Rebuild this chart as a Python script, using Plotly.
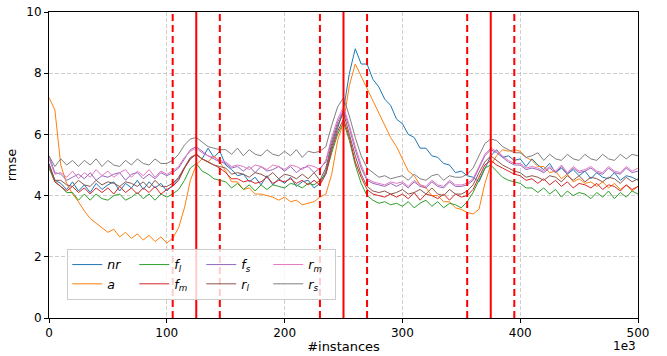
import plotly.graph_objects as go

# x positions in thousands of instances (step 5k)
x_k = list(range(0, 505, 5))

nr = [5.05, 4.5, 4.4, 4.2, 4.45, 4.15, 4.35, 4.1, 4.4, 4.2,
      4.35, 4.45, 4.15, 4.4, 4.25, 4.5, 4.2, 4.45, 4.25, 4.4,
      4.15, 4.35, 4.55, 4.9, 5.2, 5.35, 5.2, 5.55, 5.25, 5.45,
      5.0, 4.85, 4.65, 4.7, 4.45, 4.6, 4.35, 4.65, 4.35, 4.55,
      4.4, 4.6, 4.3, 4.45, 4.5, 4.25, 4.4, 4.8, 5.6, 6.2,
      6.8, 8.0, 8.8, 8.3, 8.3, 7.8, 7.55, 7.15, 6.95, 6.5,
      6.35, 6.0, 5.9, 5.55, 5.55, 5.3, 5.25, 5.05, 5.0, 4.75,
      4.8, 4.65, 4.6, 4.45, 4.9, 5.3, 5.5, 5.25, 5.3, 5.15,
      5.2, 4.95, 5.2, 5.0, 4.85, 5.05, 4.75, 4.9, 4.7, 4.85,
      4.65, 4.8, 4.55, 4.75, 4.6, 4.55, 4.75, 4.5, 4.65, 4.6,
      4.5]

a = [7.2, 6.8, 5.0, 4.4, 4.05, 3.8, 3.5, 3.25, 3.1, 2.95,
     2.8, 2.9, 2.65, 2.8, 2.6, 2.75, 2.55, 2.7, 2.5, 2.65,
     2.45, 2.6, 2.95, 3.6, 4.5, 5.0, 5.2, 5.1, 5.3, 5.1,
     4.8, 4.45, 4.45, 4.2, 4.25, 4.05, 4.05, 4.0, 3.95, 3.85,
     3.95, 3.8, 3.85, 3.7, 3.75, 3.8, 3.95, 4.05, 4.7, 5.8,
     6.4, 7.6, 8.3, 7.9, 7.5, 7.1, 6.7, 6.3, 5.9, 5.6,
     5.2, 4.8, 4.65, 4.35, 4.25, 4.0, 4.0, 3.8, 3.8, 3.6,
     3.55, 3.45, 3.4, 3.55, 4.4, 5.0, 5.3, 5.5, 5.45, 5.5,
     5.45, 5.25, 5.15, 4.95, 4.95, 4.75, 4.8, 4.55, 4.7, 4.45,
     4.55, 4.4, 4.45, 4.3, 4.45, 4.25, 4.4, 4.2, 4.35, 4.15,
     4.3]

f_l = [4.9, 4.45, 4.3, 4.1, 4.1, 3.85, 4.05, 3.85, 4.05, 3.9,
       3.85, 4.0, 4.05, 3.85, 3.95, 4.1, 3.9, 4.05, 3.85, 4.05,
       3.95, 4.05, 4.2, 4.5, 4.9, 5.05, 4.8, 4.7, 4.55, 4.5,
       4.45, 4.25, 4.4, 4.2, 4.35, 4.15, 4.35, 4.2, 4.35, 4.3,
       4.25, 4.4, 4.35, 4.25, 4.4, 4.35, 4.5, 4.7, 5.4, 6.0,
       6.4, 5.8, 5.0, 4.4, 4.0, 3.85, 3.75, 3.8, 3.7, 3.75,
       3.65, 3.8, 3.6, 3.75, 3.85, 3.65, 3.8, 3.6, 3.75, 3.7,
       3.6, 3.8, 4.1, 4.5, 4.9, 5.0, 4.8, 4.6, 4.5, 4.45,
       4.4, 4.25, 4.25, 4.1, 4.25, 4.05, 4.2, 3.95, 4.15, 4.0,
       4.1, 4.05, 3.9, 4.1, 3.95, 4.15, 3.9, 4.1, 3.95, 4.15,
       4.05]

f_m = [5.0, 4.45, 4.3, 4.15, 4.3, 4.1, 4.25, 4.05, 4.25, 4.1,
       4.25, 4.05, 4.3, 4.1, 4.25, 4.05, 4.25, 4.1, 4.3, 4.05,
       4.2, 4.3, 4.5, 4.9, 5.2, 5.35, 5.2, 5.1, 5.0, 4.9,
       4.75, 4.55, 4.55, 4.45, 4.5, 4.4, 4.45, 4.6, 4.4, 4.5,
       4.45, 4.55, 4.4, 4.5, 4.35, 4.5, 4.35, 4.7, 5.5, 6.1,
       6.5, 5.9, 5.1, 4.6, 4.2, 4.05, 4.0, 3.95, 4.05, 3.95,
       4.05, 3.9, 4.1, 3.85, 4.05, 4.0, 3.9, 4.05, 3.85, 4.05,
       3.95, 4.0, 4.2, 4.6, 5.0, 5.15, 5.0, 4.9, 4.8, 4.7,
       4.65, 4.5, 4.55, 4.4, 4.55, 4.35, 4.5, 4.3, 4.45, 4.25,
       4.4, 4.35, 4.25, 4.4, 4.2, 4.35, 4.3, 4.15, 4.35, 4.2,
       4.3]

f_s = [5.3, 4.75, 4.7, 4.5, 4.6, 4.7, 4.55, 4.75, 4.5, 4.65,
       4.6, 4.7, 4.75, 4.5, 4.7, 4.75, 4.55, 4.7, 4.55, 4.75,
       4.65, 4.75, 4.9, 5.2, 5.5, 5.6, 5.45, 5.3, 5.2, 5.1,
       5.05, 4.9, 4.95, 4.8, 4.95, 4.75, 4.95, 4.8, 4.85, 4.95,
       4.8, 4.95, 4.75, 4.9, 4.95, 4.75, 4.9, 5.1, 5.8, 6.4,
       6.8, 6.2, 5.5, 4.9, 4.5, 4.4, 4.35, 4.3, 4.4, 4.3,
       4.4, 4.25, 4.45, 4.3, 4.25, 4.45, 4.3, 4.25, 4.45, 4.3,
       4.3, 4.35, 4.5, 4.9, 5.3, 5.5, 5.4, 5.25, 5.1, 5.0,
       5.0, 4.85, 4.9, 4.85, 4.75, 4.9, 4.75, 4.95, 4.7, 4.9,
       4.75, 4.8, 4.9, 4.75, 4.7, 4.9, 4.75, 4.7, 4.9, 4.75,
       4.8]

r_l = [5.0, 4.5, 4.5, 4.35, 4.3, 4.5, 4.35, 4.3, 4.5, 4.35,
       4.45, 4.4, 4.3, 4.45, 4.4, 4.3, 4.45, 4.25, 4.5, 4.3,
       4.3, 4.4, 4.6, 4.95, 5.25, 5.35, 5.2, 5.1, 5.0, 4.95,
       4.9, 4.7, 4.75, 4.7, 4.6, 4.75, 4.7, 4.6, 4.75, 4.55,
       4.7, 4.65, 4.55, 4.7, 4.55, 4.75, 4.5, 4.9, 5.7, 6.3,
       6.7, 6.0, 5.3, 4.7, 4.3, 4.15, 4.1, 4.15, 4.05, 4.1,
       4.2, 4.05, 4.1, 4.2, 4.05, 4.25, 4.05, 4.0, 4.2, 4.05,
       4.05, 4.15, 4.35, 4.75, 5.1, 5.3, 5.15, 5.0, 4.9, 4.8,
       4.75, 4.6, 4.65, 4.6, 4.5, 4.65, 4.6, 4.45, 4.65, 4.5,
       4.65, 4.45, 4.6, 4.55, 4.45, 4.6, 4.55, 4.4, 4.6, 4.45,
       4.55]

r_m = [5.2, 4.7, 4.75, 4.6, 4.8, 4.55, 4.75, 4.6, 4.85, 4.65,
       4.8, 4.6, 4.75, 4.85, 4.6, 4.8, 4.65, 4.85, 4.6, 4.8,
       4.7, 4.8, 4.95, 5.25, 5.45, 5.55, 5.4, 5.3, 5.25, 5.15,
       5.1, 4.95, 5.0, 4.95, 4.85, 5.0, 4.95, 4.85, 5.0, 4.95,
       4.85, 5.0, 4.95, 4.85, 5.0, 4.95, 4.85, 5.15, 5.9, 6.5,
       6.9, 6.3, 5.6, 5.0, 4.55, 4.45, 4.4, 4.35, 4.45, 4.4,
       4.45, 4.3, 4.5, 4.35, 4.3, 4.5, 4.35, 4.3, 4.5, 4.35,
       4.35, 4.4, 4.55, 4.95, 5.35, 5.55, 5.45, 5.3, 5.15, 5.05,
       5.05, 4.9, 4.95, 4.9, 4.8, 4.95, 4.8, 5.0, 4.75, 4.95,
       4.8, 4.85, 4.95, 4.8, 4.75, 4.95, 4.8, 4.75, 4.95, 4.8,
       4.9]

r_s = [5.3, 4.95, 5.2, 5.0, 5.15, 4.95, 5.15, 5.0, 5.2, 4.95,
       5.15, 5.0, 4.95, 5.15, 5.0, 5.2, 5.05, 5.0, 5.2, 5.05,
       5.05, 5.15, 5.35, 5.65, 5.85, 5.9, 5.75, 5.6, 5.55, 5.5,
       5.5, 5.35, 5.55, 5.3, 5.5, 5.35, 5.3, 5.5, 5.35, 5.3,
       5.45, 5.3, 5.5, 5.25, 5.45, 5.4, 5.45, 5.6, 6.3, 6.9,
       7.2, 6.6, 5.9, 5.3, 4.9, 4.75, 4.6, 4.65, 4.55, 4.6,
       4.65, 4.5, 4.7, 4.55, 4.5, 4.65, 4.7, 4.5, 4.65, 4.6,
       4.6, 4.7, 4.9, 5.3, 5.7, 5.85, 5.8, 5.6, 5.5, 5.4,
       5.4, 5.25, 5.3, 5.4, 5.15, 5.35, 5.2, 5.15, 5.35, 5.2,
       5.15, 5.35, 5.2, 5.15, 5.35, 5.2, 5.15, 5.35, 5.2, 5.35,
       5.3]

series_names = ["<i>nr</i>", "<i>a</i>",
                "<i>f</i><sub><i>l</i></sub>", "<i>f</i><sub><i>m</i></sub>",
                "<i>f</i><sub><i>s</i></sub>", "<i>r</i><sub><i>l</i></sub>",
                "<i>r</i><sub><i>m</i></sub>", "<i>r</i><sub><i>s</i></sub>"]
series_values = [nr, a, f_l, f_m, f_s, r_l, r_m, r_s]
series_colors = ["#1f77b4", "#ff7f0e", "#2ca02c", "#d62728",
                 "#9467bd", "#8c564b", "#e377c2", "#7f7f7f"]

drift_points = [125, 250, 375]
window_bounds = [105, 145, 230, 270, 355, 395]

x_ticks = [0, 100, 200, 300, 400, 500]
y_ticks = [0, 2, 4, 6, 8, 10]

FONT = "DejaVu Sans"

fig = go.Figure()
for i, (name, vals, col) in enumerate(zip(series_names, series_values, series_colors)):
    fig.add_trace(go.Scatter(
        x=x_k, y=vals, mode="lines", name=name,
        line=dict(color=col, width=1),
        legendgroup=f"g{i // 2}",
    ))

for xv in drift_points:
    fig.add_shape(type="line", x0=xv, x1=xv, y0=0, y1=1, xref="x", yref="paper",
                  line=dict(color="red", width=2), layer="above")
for xv in window_bounds:
    fig.add_shape(type="line", x0=xv, x1=xv, y0=0, y1=1, xref="x", yref="paper",
                  line=dict(color="red", width=2, dash="7px,4px"), layer="above")

axis_common = dict(
    showline=True, mirror=True, linecolor="black", linewidth=1,
    ticks="outside", ticklen=4, tickcolor="black",
    showgrid=True, gridcolor="rgba(185,185,185,0.7)", griddash="4px,2px", gridwidth=0.8,
    zeroline=False, automargin=False,
    tickfont=dict(family=FONT, size=12, color="black"),
)

fig.update_layout(
    width=667, height=356,
    margin=dict(l=49, r=29, t=12, b=38),
    paper_bgcolor="white", plot_bgcolor="white",
    font=dict(family=FONT, size=12, color="black"),
    xaxis=dict(range=[0, 500], tickvals=x_ticks, **axis_common,
               title=dict(text="#instances", font=dict(family=FONT, size=13), standoff=2)),
    yaxis=dict(range=[0, 10], tickvals=y_ticks, **axis_common,
               title=dict(text="rmse", font=dict(family=FONT, size=13), standoff=6)),
    legend=dict(
        orientation="h", traceorder="grouped", tracegroupgap=0,
        x=0.031, y=0.059, xanchor="left", yanchor="bottom",
        bgcolor="rgba(255,255,255,0.8)", bordercolor="#cccccc", borderwidth=1,
        font=dict(family=FONT, size=12.5),
        entrywidth=22,
    ),
    annotations=[dict(text="1e3", xref="paper", yref="paper", x=1, y=-0.092,
                      xanchor="right", yanchor="middle", showarrow=False,
                      font=dict(family=FONT, size=12))],
)

fig.write_html("out.html")
